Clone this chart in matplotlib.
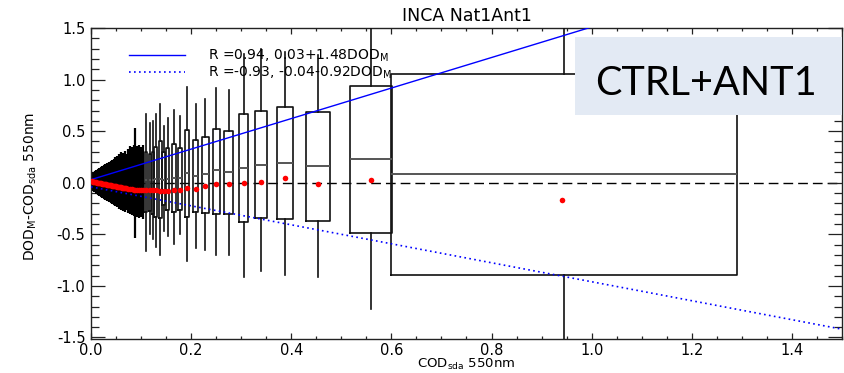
import matplotlib
matplotlib.use('Agg')
import matplotlib.pyplot as plt
from matplotlib.patches import Rectangle
from matplotlib.lines import Line2D
from matplotlib.ticker import MultipleLocator

# ---------------- data ----------------
title = 'INCA Nat1Ant1'
inset_label = 'CTRL+ANT1'
fit1_label = r'R =0.94, 0.03+1.48DOD$_\mathregular{M}$'
fit2_label = r'R =-0.93, -0.04-0.92DOD$_\mathregular{M}$'
fit1_a, fit1_b = 0.03, 1.48
fit2_a, fit2_b = -0.04, -0.92

# dense low-COD bins (whiskers only visible as a black mass)
dense_x = [0.002, 0.004, 0.006, 0.008, 0.010, 0.012, 0.014, 0.016, 0.018, 0.020,
           0.022, 0.024, 0.026, 0.028, 0.030, 0.032, 0.034, 0.036, 0.038, 0.040,
           0.042, 0.044, 0.046, 0.048, 0.050, 0.052, 0.054, 0.056, 0.058, 0.060,
           0.062, 0.064, 0.066, 0.068, 0.070, 0.074, 0.078, 0.082, 0.085, 0.088,
           0.091, 0.095, 0.099, 0.103]
dense_hi = [0.09, 0.10, 0.09, 0.11, 0.12, 0.11, 0.13, 0.14, 0.13, 0.15,
            0.16, 0.15, 0.17, 0.18, 0.16, 0.19, 0.18, 0.20, 0.19, 0.21,
            0.22, 0.20, 0.23, 0.25, 0.22, 0.26, 0.24, 0.28, 0.25, 0.30,
            0.27, 0.29, 0.26, 0.31, 0.28, 0.33, 0.36, 0.35, 0.37, 0.53,
            0.36, 0.37, 0.35, 0.37]
dense_lo = [-0.07, -0.08, -0.09, -0.09, -0.11, -0.10, -0.12, -0.13, -0.12, -0.14,
            -0.15, -0.14, -0.16, -0.17, -0.15, -0.18, -0.17, -0.19, -0.18, -0.20,
            -0.21, -0.19, -0.22, -0.23, -0.21, -0.24, -0.22, -0.25, -0.23, -0.26,
            -0.24, -0.27, -0.25, -0.28, -0.26, -0.29, -0.30, -0.31, -0.32, -0.54,
            -0.33, -0.34, -0.33, -0.35]
dense_mean = [0.012, 0.010, 0.008, 0.006, 0.004, 0.002, 0.000, -0.002, -0.004, -0.006,
              -0.008, -0.010, -0.012, -0.014, -0.016, -0.018, -0.020, -0.022, -0.024, -0.026,
              -0.028, -0.030, -0.032, -0.034, -0.036, -0.038, -0.040, -0.042, -0.044, -0.046,
              -0.048, -0.050, -0.052, -0.054, -0.055, -0.058, -0.061, -0.064, -0.066, -0.068,
              -0.069, -0.070, -0.071, -0.072]

# box-plot bins
box_x = [0.110, 0.117, 0.123, 0.129, 0.138, 0.145, 0.153, 0.165, 0.177, 0.192,
         0.209, 0.228, 0.250, 0.275, 0.305, 0.340, 0.388, 0.454, 0.560, 0.945]
box_w = [0.005, 0.004, 0.004, 0.006, 0.006, 0.005, 0.006, 0.008, 0.008, 0.009,
         0.011, 0.014, 0.014, 0.017, 0.018, 0.024, 0.032, 0.048, 0.084, 0.690]
box_q3 = [0.30, 0.28, 0.30, 0.35, 0.40, 0.30, 0.34, 0.38, 0.34, 0.51,
          0.41, 0.445, 0.52, 0.505, 0.665, 0.70, 0.73, 0.69, 0.94, 1.05]
box_q1 = [-0.28, -0.27, -0.30, -0.33, -0.34, -0.22, -0.26, -0.28, -0.26, -0.33,
          -0.285, -0.29, -0.30, -0.30, -0.38, -0.34, -0.35, -0.375, -0.49, -0.89]
box_med = [0.03, 0.03, 0.03, 0.04, 0.04, 0.03, 0.04, 0.05, 0.05, 0.09,
           0.07, 0.08, 0.12, 0.105, 0.14, 0.175, 0.19, 0.16, 0.23, 0.08]
box_wlo = [-0.66, -0.50, -0.55, -0.62, -0.70, -0.47, -0.52, -0.59, -0.50, -0.755,
           -0.63, -0.65, -0.70, -0.70, -0.91, -0.86, -0.89, -0.91, -1.22, -1.60]
box_whi = [0.67, 0.58, 0.60, 0.67, 0.76, 0.55, 0.63, 0.71, 0.65, 0.93,
           0.76, 0.81, 0.92, 0.90, 1.25, 1.30, 1.27, 1.24, 1.60, 1.60]
box_mean_x = [0.110, 0.117, 0.123, 0.129, 0.138, 0.145, 0.153, 0.165, 0.177, 0.192,
              0.209, 0.228, 0.250, 0.275, 0.305, 0.340, 0.388, 0.454, 0.560, 0.940]
box_mean = [-0.072, -0.075, -0.070, -0.075, -0.080, -0.080, -0.078, -0.068, -0.068, -0.050,
            -0.060, -0.036, -0.010, -0.017, -0.004, 0.003, 0.050, -0.010, 0.030, -0.165]

xticks = [0.0, 0.2, 0.4, 0.6, 0.8, 1.0, 1.2, 1.4]
xticklabels = ['0.0', '0.2', '0.4', '0.6', '0.8', '1.0', '1.2', '1.4']
yticks = [-1.5, -1.0, -0.5, 0.0, 0.5, 1.0, 1.5]
yticklabels = ['-1.5', '-1.0', '-0.5', '0.0', '0.5', '1.0', '1.5']

# ---------------- plot ----------------
plt.rcParams['font.family'] = ['DejaVu Sans']
W, H = 844, 373
fig = plt.figure(figsize=(W / 100, H / 100), dpi=100)
ax = fig.add_axes([91 / W, 1 - 339 / H, 751 / W, 311.5 / H])

ax.set_xlim(0, 1.5)
ax.set_ylim(-1.515, 1.505)

# zero line
ax.axhline(0, color='black', lw=1.0, dashes=(7, 3.6), zorder=1)

# dense bins
ax.vlines(dense_x, dense_lo, dense_hi, colors='black', lw=1.6, zorder=2)

# boxes
stats = []
for q1, med, q3, lo, hi in zip(box_q1, box_med, box_q3, box_wlo, box_whi):
    stats.append(dict(q1=q1, med=med, q3=q3, whislo=lo, whishi=hi, fliers=[]))
ax.bxp(stats, positions=box_x, widths=box_w, showcaps=False, showfliers=False,
       boxprops=dict(color='#111111', lw=1.2),
       whiskerprops=dict(color='#111111', lw=1.2),
       medianprops=dict(color='#555555', lw=1.4),
       manage_ticks=False, zorder=3)

# fit lines
xl = [0.0, 1.5]
ax.plot(xl, [fit1_a + fit1_b * v for v in xl], color='#0000ff', lw=1.0, zorder=4)
ax.plot(xl, [fit2_a + fit2_b * v for v in xl], color='#0000ff', lw=1.2,
        dashes=(1.0, 2.0), zorder=4)

# means
ax.plot(dense_x + box_mean_x, dense_mean + box_mean, 'o', color='#ff0000',
        ms=4.0, mec='none', zorder=6, clip_on=True)

# ticks
ax.set_xticks(xticks)
ax.set_xticklabels(xticklabels)
ax.set_yticks(yticks)
ax.set_yticklabels(yticklabels)
ax.xaxis.set_minor_locator(MultipleLocator(0.05))
ax.yaxis.set_minor_locator(MultipleLocator(0.1))
ax.tick_params(axis='both', which='both', direction='in', top=True, right=True,
               colors='#222222', labelcolor='black', width=0.9)
ax.tick_params(axis='y', which='major', length=10, labelsize=10.5, pad=4)
ax.tick_params(axis='y', which='minor', length=5.5)
ax.tick_params(axis='x', which='major', length=4.5, labelsize=10.5, pad=3)
ax.tick_params(axis='x', which='minor', length=2.5)
for s in ax.spines.values():
    s.set_linewidth(1.0)
    s.set_color('#222222')

# labels
ax.set_title(title, fontsize=12.5, pad=4.5)
ax.set_xlabel(r'COD$_\mathregular{sda}$ 550nm', fontsize=9.5)
ax.xaxis.set_label_coords(0.5, -0.058)
ax.set_ylabel(r'DOD$_\mathregular{M}$-COD$_\mathregular{sda}$ 550nm', fontsize=10)
ax.yaxis.set_label_coords(-0.069, 0.49)

# legend
handles = [Line2D([], [], color='#0000ff', lw=1.0),
           Line2D([], [], color='#0000ff', lw=1.2, dashes=(1.0, 2.0))]
ax.legend(handles, [fit1_label, fit2_label], loc='upper left',
          bbox_to_anchor=(129 / W, 1 - 47.5 / H), bbox_transform=fig.transFigure,
          frameon=False, fontsize=10, handlelength=4.0, handletextpad=1.7,
          labelspacing=0.05, borderpad=0, borderaxespad=0)

# inset label box
rect = Rectangle((575 / W, 1 - 115 / H), (842 - 575) / W, (115 - 37) / H,
                 transform=fig.transFigure, facecolor='#e3eaf4', edgecolor='none',
                 zorder=10)
fig.add_artist(rect)
fig.text(706 / W, 1 - 95 / H, inset_label, fontsize=28.5, family='Lato',
         ha='center', va='baseline', zorder=11)

fig.savefig('out.png', dpi=100)
